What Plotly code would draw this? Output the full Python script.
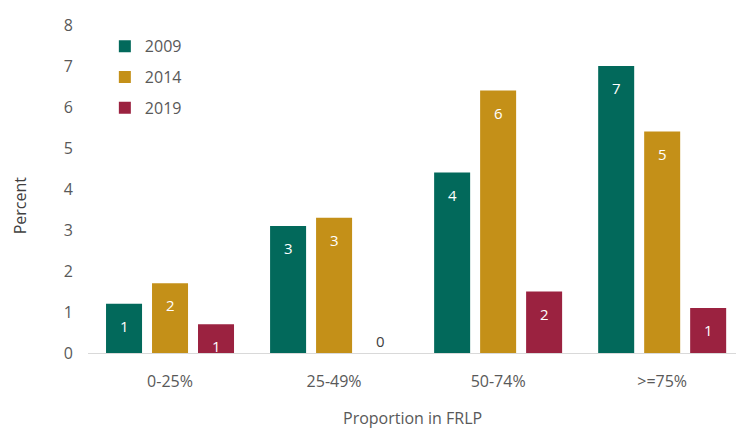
import plotly.graph_objects as go

categories = ["0-25%", "25-49%", "50-74%", ">=75%"]
years = ["2009", "2014", "2019"]
values_2009 = [1.2, 3.1, 4.4, 7.0]
values_2014 = [1.7, 3.3, 6.4, 5.4]
values_2019 = [0.7, 0.0, 1.5, 1.1]
y_ticks = [0, 1, 2, 3, 4, 5, 6, 7, 8]

series = [values_2009, values_2014, values_2019]
colors = ["#02695B", "#C49018", "#9B2240"]
offsets = [-46, 0, 46]

font_family = "Open Sans, Lato, sans-serif"
gray = "#595959"

fig = go.Figure()
for name, vals, col in zip(years, series, colors):
    fig.add_trace(go.Bar(
        x=categories, y=vals, name=name, legendgroup=name,
        marker=dict(color=col, line=dict(width=0)),
    ))

# value labels: rounded, inside the top of each bar (dark above an empty bar)
annotations = []
for vals, dx in zip(series, offsets):
    for cat, v in zip(categories, vals):
        inside = v > 0.5
        annotations.append(dict(
            x=cat, y=v, xref="x", yref="y", xshift=dx,
            yshift=-22 if inside else 12,
            text=f"{round(v + 1e-9):.0f}",
            showarrow=False,
            font=dict(family=font_family, size=15,
                      color="white" if inside else "#404040"),
        ))

# axis titles
annotations.append(dict(
    text="Percent", x=-0.105, xref="paper", y=0.45, yref="paper",
    xanchor="center", yanchor="middle", showarrow=False, textangle=-90,
    font=dict(family=font_family, size=16, color="#404040"),
))
annotations.append(dict(
    text="Proportion in FRLP", x=0.5, xref="paper", y=-0.198, yref="paper",
    showarrow=False, xanchor="center", yanchor="middle",
    font=dict(family=font_family, size=16, color=gray),
))

fig.update_layout(
    width=736, height=432,
    margin=dict(l=88, r=0, t=25, b=79),
    paper_bgcolor="white", plot_bgcolor="white",
    barmode="group", bargap=0.159, bargroupgap=0.217,
    font=dict(family=font_family, size=15, color=gray),
    showlegend=True,
    legend=dict(
        x=0.026, y=0.987, xanchor="left", yanchor="top",
        bgcolor="rgba(0,0,0,0)", font=dict(size=16, color=gray),
        tracegroupgap=7, itemwidth=30,
    ),
    xaxis=dict(
        range=[-0.5, 3.45], showgrid=False, ticks="",
        showline=True, linecolor="#D9D9D9", linewidth=1,
        tickfont=dict(size=16, color=gray), ticklabelstandoff=14,
    ),
    yaxis=dict(
        range=[0, 8], tickvals=y_ticks, showgrid=False, zeroline=False,
        showline=False, ticks="", ticklabelstandoff=14,
        tickfont=dict(size=16, color=gray),
    ),
    annotations=annotations,
)

fig.write_html("out.html")
